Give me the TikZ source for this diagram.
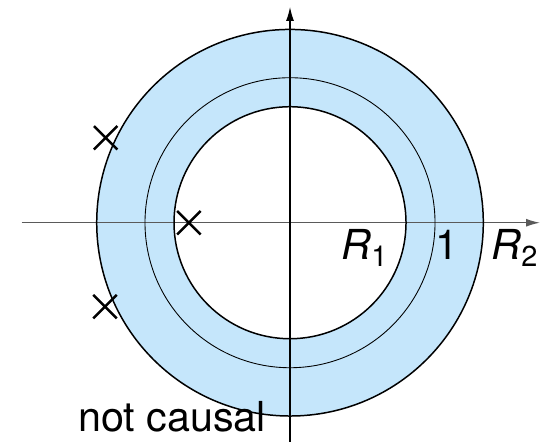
\documentclass[tikz,border=0pt]{standalone}
\usepackage{fontspec}
\setmainfont{TeX Gyre Heros}
\usetikzlibrary{arrows.meta,shapes.misc}
\definecolor{regionfill}{HTML}{C5E6FB}
\definecolor{axisgray}{HTML}{5A5A5A}

\begin{document}
\begin{tikzpicture}[
  x=2.9cm,
  y=2.9cm,
  every node/.style={font=\fontsize{23.5}{28}\selectfont},
  pole/.style={draw, cross out, line width=1.4pt, inner sep=0pt, minimum size=0.42cm},
  axistip/.style={-{Latex[length=0.28cm,width=0.16cm]}}
]
  \useasboundingbox (-2.0,-1.512) rectangle (1.724,1.536);

  \path[
    fill=regionfill,
    even odd rule
  ]
    (0,0) circle (1.333)
    (0,0) circle (0.8);

  \coordinate (xstart) at (-1.85,0);
  \coordinate (xend) at (1.724,0);
  \coordinate (ystart) at (0,-1.512);
  \coordinate (yend) at (0,1.488);
  \draw[axisgray, line width=0.75pt, axistip] (xstart) -- (xend);
  \draw[black, line width=0.7pt, axistip] (ystart) -- (yend);

  \draw[line width=0.85pt] (0,0) circle (1.333);
  \draw[line width=0.5pt] (0,0) circle (1);
  \draw[line width=0.85pt] (0,0) circle (0.8);

  \node[pole] (pole1) at (-1.271,0.586) {};
  \node[pole] (pole2) at (-0.697,0) {};
  \node[pole] (pole3) at (-1.276,-0.579) {};

  \node[anchor=base] (rone) at (0.517,-0.257) {\textit{R}\textsubscript{1}};
  \node[anchor=base] (unit) at (1.081,-0.257) {1};
  \node[anchor=base] (rtwo) at (1.552,-0.257) {\textit{R}\textsubscript{2}};
  \node[anchor=base, inner sep=0.5pt] (caption) at (-0.814,-1.44) {not causal};
\end{tikzpicture}
\end{document}
